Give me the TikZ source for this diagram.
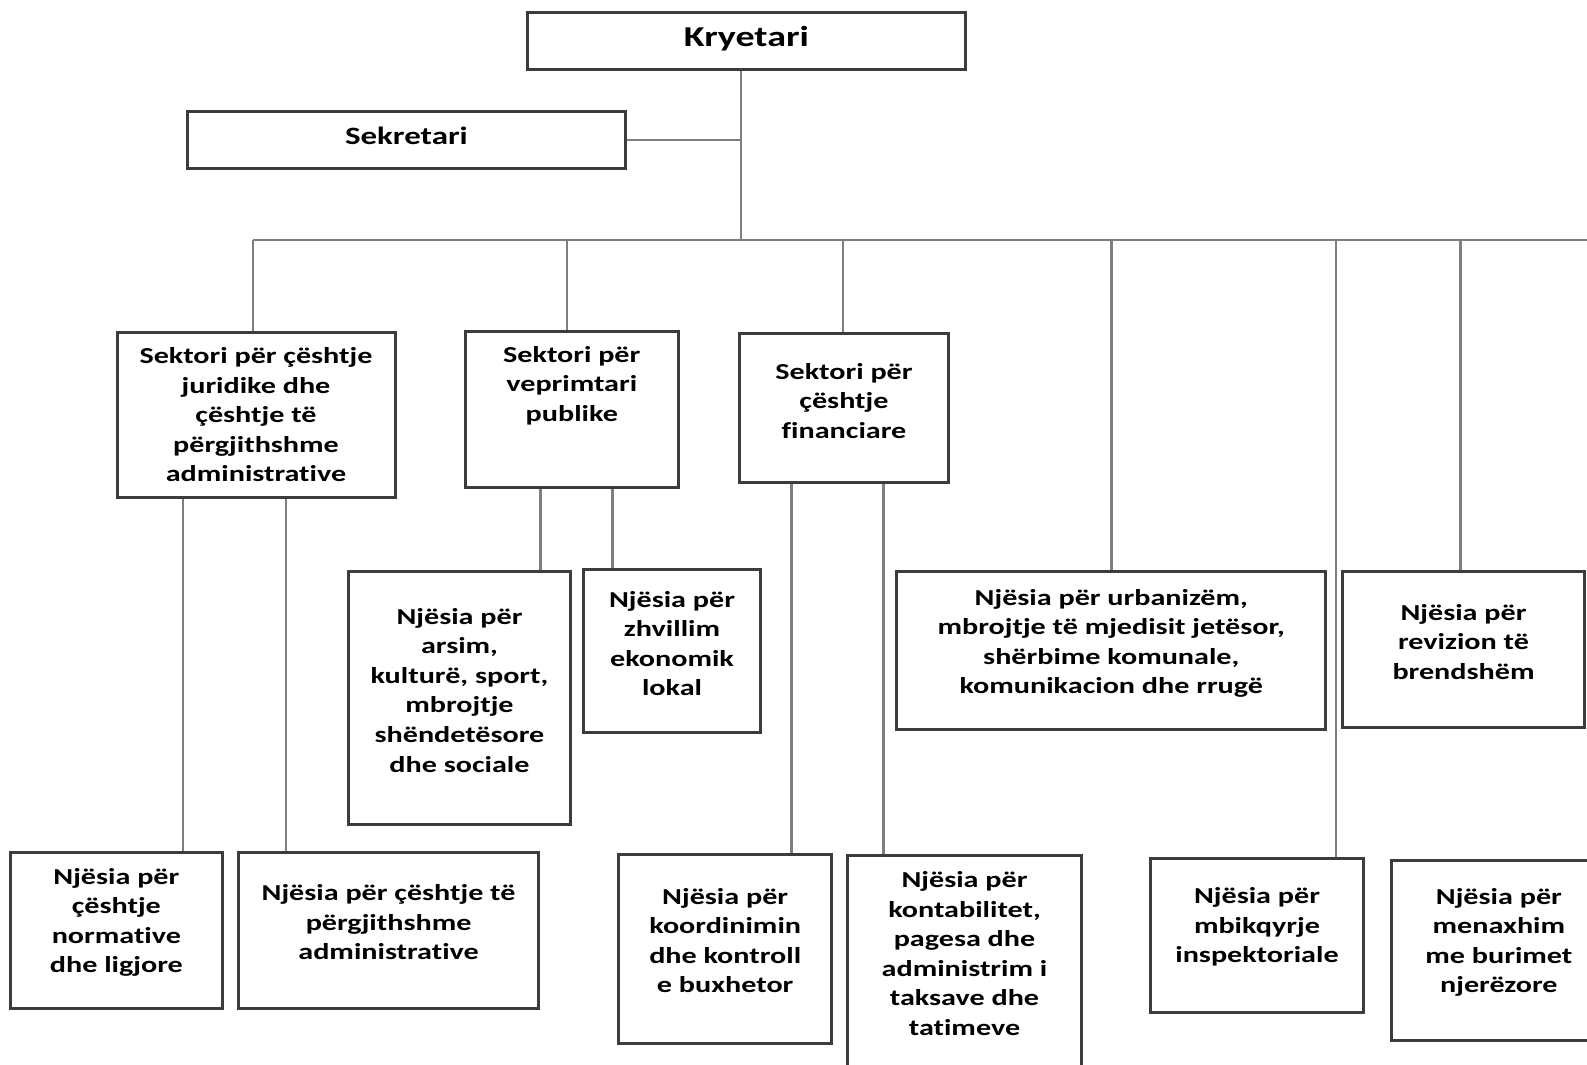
\documentclass[tikz,border=0pt]{standalone}
\usepackage{fontspec}
\newfontfamily\orgfont{Carlito}[FakeStretch=1.32, Ligatures=NoCommon]
\usepackage{tikz}
\usetikzlibrary{positioning}
\definecolor{boxgray}{HTML}{3C3C3C}
\definecolor{linkgray}{HTML}{7F7F7F}
\begin{document}
\begin{tikzpicture}[
  x=0.02cm, y=-0.02cm,
  unit/.style={rectangle, draw=boxgray, line width=1.7pt, inner sep=0pt},
  utext/.style={align=center, inner sep=0pt, font=\orgfont\bfseries\fontsize{13}{16.8}\selectfont},
  link/.style={draw=linkgray, line width=1.4pt}
]
\useasboundingbox (0,0) rectangle (1587,1065);

% head
\node[unit, minimum width=8.76cm, minimum height=1.15cm] (kry) at (746.4,41) {};
\node[utext, font=\orgfont\bfseries\fontsize{16.4}{19}\selectfont] (kry-t) at (746.4,38.5) {Kryetari};
\node[unit, minimum width=8.77cm, minimum height=1.15cm] (sek) at (406.4,140.2) {};
\node[utext, font=\orgfont\bfseries\fontsize{14.2}{17}\selectfont] (sek-t) at (406.4,135.6) {Sekretari};

% sectors
\node[unit, minimum width=5.57cm, minimum height=3.32cm] (sjur) at (256.6,415) {};
\node[utext] (sjur-t) at (256,415) {Sektori për çështje\\juridike dhe\\çështje të\\përgjithshme\\administrative};
\node[unit, minimum width=4.25cm, minimum height=3.12cm] (spub) at (571.9,409.9) {};
\node[utext] (spub-t) at (571.8,385.6) {Sektori për\\veprimtari\\publike};
\node[unit, minimum width=4.17cm, minimum height=2.98cm] (sfin) at (844,408.4) {};
\node[utext] (sfin-t) at (844,400.8) {Sektori për\\çështje\\financiare};

% units, middle row
\node[unit, minimum width=4.45cm, minimum height=5.06cm] (narsim) at (459.5,698.4) {};
\node[utext] (narsim-t) at (459.5,690.3) {Njësia për\\arsim,\\kulturë, sport,\\mbrojtje\\shëndetësore\\dhe sociale};
\node[unit, minimum width=3.56cm, minimum height=3.26cm] (nzhv) at (672,651.3) {};
\node[utext] (nzhv-t) at (672,643.7) {Njësia për\\zhvillim\\ekonomik\\lokal};
\node[unit, minimum width=8.58cm, minimum height=3.16cm] (nurb) at (1111.3,650.8) {};
\node[utext] (nurb-t) at (1111.3,643.2) {Njësia për urbanizëm,\\mbrojtje të mjedisit jetësor,\\shërbime komunale,\\komunikacion dhe rrugë};
\node[unit, minimum width=4.86cm, minimum height=3.12cm] (nrev) at (1463.5,649.7) {};
\node[utext] (nrev-t) at (1463.5,641.7) {Njësia për\\revizion të\\brendshëm};

% units, bottom row
\node[unit, minimum width=4.25cm, minimum height=3.12cm] (nnor) at (116.4,930.1) {};
\node[utext] (nnor-t) at (116.4,922.5) {Njësia për\\çështje\\normative\\dhe ligjore};
\node[unit, minimum width=5.99cm, minimum height=3.12cm] (nadm) at (388.6,930.1) {};
\node[utext] (nadm-t) at (388.6,922.5) {Njësia për çështje të\\përgjithshme\\administrative};
\node[unit, minimum width=4.27cm, minimum height=3.79cm] (nkoo) at (725.2,948.8) {};
\node[utext] (nkoo-t) at (725.2,940.7) {Njësia për\\koordinimin\\dhe kontroll\\e buxhetor};
\node[unit, minimum width=4.70cm, minimum height=4.60cm] (nkon) at (964.5,970.1) {};
\node[utext] (nkon-t) at (964.5,953.4) {Njësia për\\kontabilitet,\\pagesa dhe\\administrim i\\taksave dhe\\tatimeve};
\node[unit, minimum width=4.25cm, minimum height=3.08cm] (nmbi) at (1257,935.2) {};
\node[utext] (nmbi-t) at (1257,927.1) {Njësia për\\mbikqyrje\\inspektoriale};
\node[unit, minimum width=4.29cm, minimum height=3.60cm] (nmen) at (1498.9,950.4) {};
\node[utext] (nmen-t) at (1498.9,942.3) {Njësia për\\menaxhim\\me burimet\\njerëzore};

% connectors
\coordinate (bus) at (740.9,239.9);
\coordinate (busL) at (253,239.9);
\coordinate (busR) at (1600,239.9);
\draw[link] (740.9,0 |- kry.south) -- (bus);
\draw[link] (sek.east) -- (sek.east -| bus);
\draw[link] (busL) -- (busR);
\foreach \x/\b in {253/sjur, 566.8/spub, 843.1/sfin, 1111.3/nurb, 1336/nmbi, 1460.5/nrev} {
  \draw[link] (\x,0 |- bus) -- (\x,0 |- \b.north);
}
\foreach \x/\a/\b in {183.2/sjur/nnor, 286/sjur/nadm, 540.5/spub/narsim, 612.3/spub/nzhv, 791.5/sfin/nkoo, 883.5/sfin/nkon} {
  \draw[link] (\x,0 |- \a.south) -- (\x,0 |- \b.north);
}

\end{tikzpicture}
\end{document}
